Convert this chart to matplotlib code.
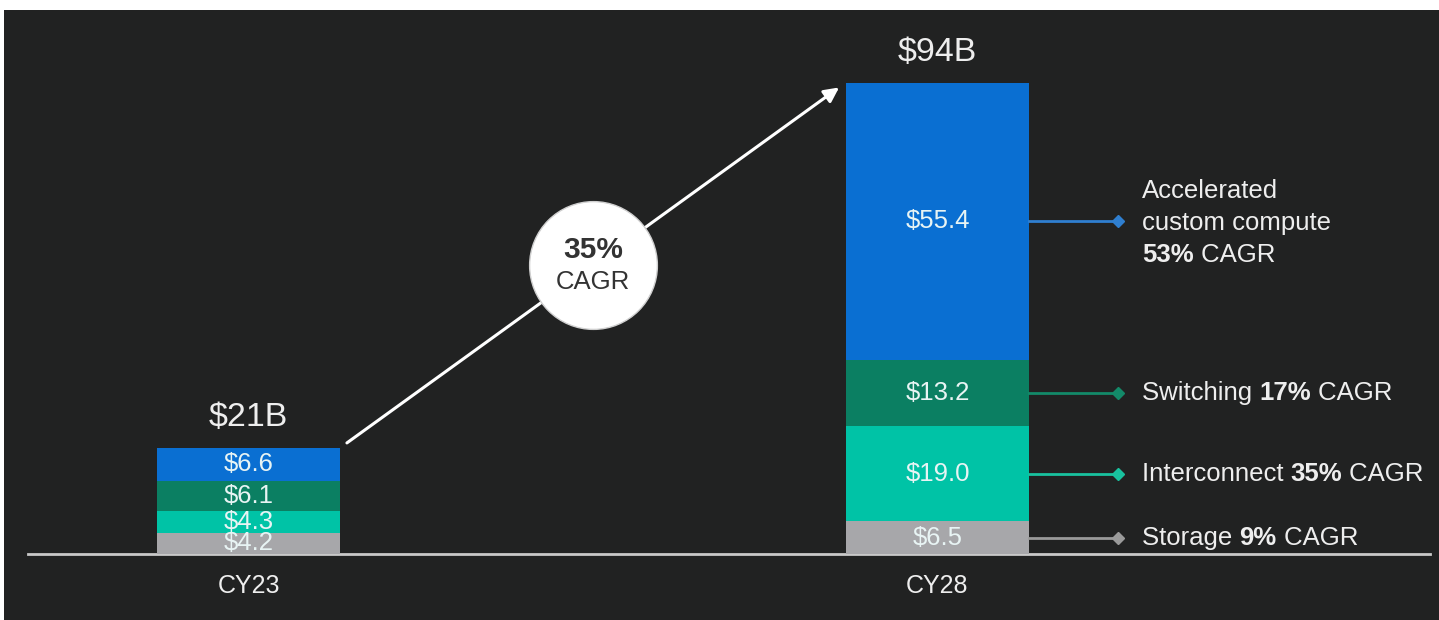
import matplotlib.pyplot as plt
from matplotlib.patches import Rectangle

# data
years = ['CY23', 'CY28']
totals = ['$21B', '$94B']
storage = [4.2, 6.5]
interconnect = [4.3, 19.0]
switching = [6.1, 13.2]
compute = [6.6, 55.4]
seg_names = ['Storage', 'Interconnect', 'Switching', 'Accelerated\ncustom compute']
seg_cagr = ['9%', '35%', '17%', '53%']
total_cagr = '35%'

colors = ['#a7a7aa', '#00c3a6', '#0b7f62', '#0a6fd2']
line_colors = ['#9a9a9a', '#19c29f', '#138a69', '#2f7fd0']
txt = '#eeeeee'

plt.rcParams['font.family'] = ['Liberation Sans', 'DejaVu Sans']

fig = plt.figure(figsize=(14.39, 6.2), dpi=100, facecolor='white')
fig.patches.append(Rectangle((4 / 1439, 0), 1, 610 / 620, transform=fig.transFigure,
                             facecolor='#212222', edgecolor='none', zorder=-5))
ax = fig.add_axes([0, 0, 1, 1])
ax.set_axis_off()
ax.patch.set_alpha(0)
ax.set_xlim(-0.3607, 1.7279)
ax.set_ylim(-13.17, 110.58)

x = list(range(len(years)))
w = 0.266

# stacked bars
bottom = [0.0, 0.0]
mids = []
for vals, c in zip([storage, interconnect, switching, compute], colors):
    ax.bar(x, vals, w, bottom=bottom, color=c, zorder=2)
    for i, v in enumerate(vals):
        ax.text(i, bottom[i] + v / 2, f'${v:.1f}', ha='center', va='center',
                color='#e8f4f4', fontsize=18.5, zorder=3)
    mids.append(bottom[1] + vals[1] / 2)
    bottom = [b + v for b, v in zip(bottom, vals)]

ax.axhline(0, xmin=28 / 1439, xmax=1430 / 1439, color='#c9c9c9', lw=2, zorder=1)

for i in x:
    ax.annotate(totals[i], (i, bottom[i]), xytext=(0, 22), textcoords='offset points',
                ha='center', va='center', fontsize=24.5, color=txt)
    ax.annotate(years[i], (i, 0), xytext=(0, -23), textcoords='offset points',
                ha='center', va='center', fontsize=18, color=txt)

# growth arrow between the bar tops
p0 = (x[0] + w / 2, bottom[0])
p1 = (x[1] - w / 2, bottom[1])
ax.annotate('', xy=p1, xytext=p0,
            arrowprops=dict(arrowstyle='-|>', color='white', lw=2.2, mutation_scale=22,
                            shrinkA=6, shrinkB=6), zorder=3)
cx, cy = (p0[0] + p1[0]) / 2, (p0[1] + p1[1]) / 2
ax.scatter([cx], [cy], s=92 ** 2, color='white', edgecolor='#d0d0d0', lw=1, zorder=4)
ax.annotate(total_cagr, (cx, cy), xytext=(0, 11), textcoords='offset points', ha='center',
            va='center', fontsize=21.5, fontweight='bold', color='#333333', zorder=5)
ax.annotate('CAGR', (cx, cy), xytext=(0, -12), textcoords='offset points', ha='center',
            va='center', fontsize=18.5, color='#333333', zorder=5)

# callouts on the right
x_end = 1.262
x_txt = 1.297
fs = 18.5
for name, cagr, y, lc in zip(seg_names, seg_cagr, mids, line_colors):
    ax.plot([x[1] + w / 2, x_end], [y, y], color=lc, lw=2, zorder=2)
    ax.plot([x_end], [y], marker='D', ms=6, color=lc, zorder=3)
    lines = name.split('\n')
    if len(lines) > 1:
        n = len(lines) + 1
        for k, ln in enumerate(lines):
            ax.annotate(ln, (x_txt, y), xytext=(0, 23 * ((n - 1) / 2 - k) - 1.5), textcoords='offset points',
                        ha='left', va='center', fontsize=fs, color=txt)
        first = ax.annotate(cagr, (x_txt, y), xytext=(0, -23 * (n - 1) / 2 - 1.5), textcoords='offset points',
                            ha='left', va='center', fontsize=fs, fontweight='bold', color=txt)
    else:
        t = ax.text(x_txt, y, name + ' ', ha='left', va='center', fontsize=fs, color=txt)
        first = ax.annotate(cagr, xy=(1, 0.5), xycoords=t, ha='left', va='center',
                            fontsize=fs, fontweight='bold', color=txt)
    ax.annotate(' CAGR', xy=(1, 0.5), xycoords=first, ha='left', va='center',
                fontsize=fs, color=txt)

fig.savefig('out.png', dpi=100, facecolor=fig.get_facecolor())
